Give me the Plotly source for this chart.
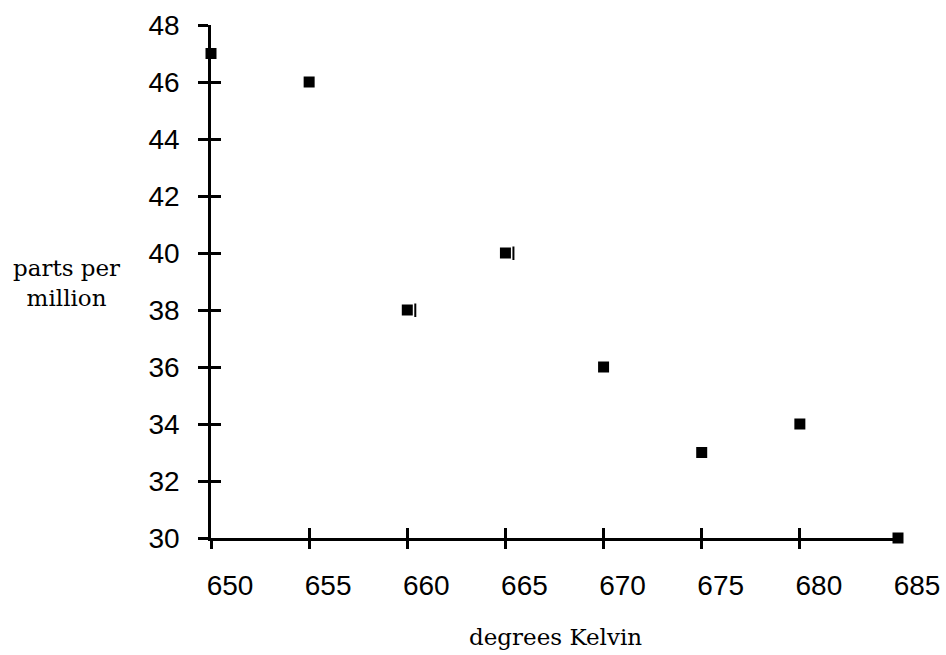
import plotly.graph_objects as go

# Data
kelvin = [650, 655, 660, 665, 670, 675, 680, 685]
ppm = [47, 46, 38, 40, 36, 33, 34, 30]
x_ticks = [650, 655, 660, 665, 670, 675, 680, 685]
x_tick_marks = [650, 655, 660, 665, 670, 675, 680]
y_ticks = [30, 32, 34, 36, 38, 40, 42, 44, 46, 48]
marked_points = [(660, 38), (665, 40)]  # points with a small bar beside them

TICK_FONT = dict(family="Liberation Sans, Arial, sans-serif", size=28, color="black")
TITLE_FONT = dict(family="DejaVu Serif, serif", size=23, color="black")
X_RANGE = [650, 685]
Y_RANGE = [30, 48]

fig = go.Figure()
fig.add_trace(go.Scatter(
    x=kelvin, y=ppm, mode="markers",
    marker=dict(symbol="square", size=11, color="black"),
    showlegend=False, cliponaxis=False,
))
# invisible helpers so the overlay tick axes are drawn
for xa in ["x2", "x3"]:
    fig.add_trace(go.Scatter(x=kelvin, y=ppm, xaxis=xa, yaxis="y", mode="markers",
                             marker=dict(opacity=0), hoverinfo="skip", showlegend=False))
fig.add_trace(go.Scatter(x=kelvin, y=ppm, xaxis="x", yaxis="y2", mode="markers",
                         marker=dict(opacity=0), hoverinfo="skip", showlegend=False))

common_x = dict(range=X_RANGE, showgrid=False, zeroline=False, fixedrange=True, automargin=False)
common_y = dict(range=Y_RANGE, showgrid=False, zeroline=False, fixedrange=True, automargin=False)

fig.update_layout(
    template="none",
    width=946, height=655,
    margin=dict(l=211, r=48, t=25, b=117, autoexpand=False),
    paper_bgcolor="white", plot_bgcolor="white",
    xaxis=dict(**common_x, tickvals=x_ticks, ticktext=[str(v) for v in x_ticks],
               ticks="", showline=True, linecolor="black", linewidth=2.5,
               tickfont=TICK_FONT, ticklabelstandoff=21, ticklabelshift=19),
    xaxis2=dict(**common_x, overlaying="x", anchor="y", side="bottom",
                tickvals=x_tick_marks, ticks="outside", ticklen=10, tickwidth=2.5,
                tickcolor="black", showticklabels=False, showline=False),
    xaxis3=dict(**common_x, overlaying="x", anchor="y", side="bottom",
                tickvals=x_tick_marks, ticks="inside", ticklen=10, tickwidth=2.5,
                tickcolor="black", showticklabels=False, showline=False),
    yaxis=dict(**common_y, tickvals=y_ticks, ticks="outside", ticklen=10, tickwidth=2.5,
               tickcolor="black", showline=True, linecolor="black", linewidth=2.5,
               tickfont=TICK_FONT, ticklabelstandoff=13),
    yaxis2=dict(**common_y, overlaying="y", anchor="x", side="left",
                tickvals=y_ticks, ticks="inside", ticklen=10, tickwidth=2.5,
                tickcolor="black", showticklabels=False, showline=False),
)

annotations = [
    dict(text="degrees Kelvin", xref="paper", yref="paper", x=(555 - 211) / 687,
         y=(538 - 637) / 513, xanchor="center", yanchor="middle", showarrow=False,
         font=TITLE_FONT),
    dict(text="parts per<br>million", xref="paper", yref="paper", x=(66 - 211) / 687,
         y=(538 - 283) / 513, xanchor="center", yanchor="middle", showarrow=False,
         font=TITLE_FONT, align="center"),
]
for px, py in marked_points:
    annotations.append(dict(text="", x=px, y=py, xref="x", yref="y", xshift=8, yshift=-7,
                            showarrow=True, arrowhead=0, arrowwidth=2, arrowcolor="black",
                            ax=0, ay=-15, standoff=0, startstandoff=0))
fig.update_layout(annotations=annotations)

fig.write_html("out.html", config={"displayModeBar": False},
               post_script="document.body.style.margin='0px';document.body.style.overflow='hidden';")
